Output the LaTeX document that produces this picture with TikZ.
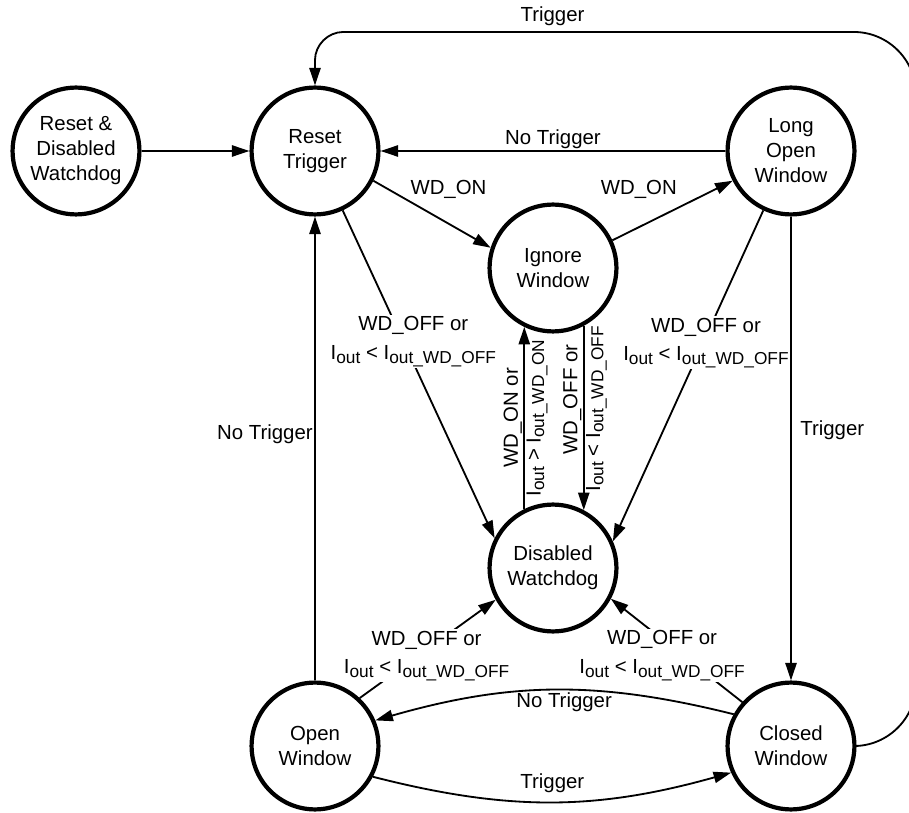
\documentclass[tikz,border=0pt]{standalone}
\usepackage{fontspec}
\setmainfont{Liberation Sans}
\usepackage{tikz}
\usetikzlibrary{arrows.meta,positioning}
\tikzset{every picture/.style={
  >={Triangle[length=12.5pt,width=8pt]}   % Solid triangular arrow heads.
  }
}
\newcommand{\subtxt}[1]{\raisebox{-2.4pt}{\fontsize{12.3}{14}\selectfont #1}}

\begin{document}
\begin{tikzpicture}[
    x=0.025cm, y=-0.025cm,
    state/.style={              % Circles denoting watchdog states.
      circle,
      draw,
      line width=3pt,
      minimum size=3.17cm,
      inner sep=0pt,
      align=center,
      font=\fontsize{14.5}{17.8}\selectfont
    },
    trans/.style={              % Transitions between states.
      ->,
      line width=1.3pt
    },
    lbl/.style={                % Styling of label text.
      inner sep=1pt,
      align=center,
      font=\fontsize{14.5}{20.5}\selectfont
    },
    onwire/.style={             % Labels sitting on a transition.
      lbl,
      fill=white
    }]

    \useasboundingbox (0,0) rectangle (909,813);
    \clip (0,0) rectangle (909,813);

    % The states of the watchdog.
    \node[state] (rdw) at (76,151)  {Reset \&\\Disabled\\Watchdog};
    \node[state] (rt)  at (315,151) {Reset\\Trigger};
    \node[state] (low) at (791,151) {Long\\Open\\Window};
    \node[state] (iw)  at (553,268) {Ignore\\Window};
    \node[state] (dw)  at (553,568) {Disabled\\Watchdog};
    \node[state] (ow)  at (315,746) {Open\\Window};
    \node[state] (cw)  at (791,746) {Closed\\Window};

    % Resetting and triggering.
    \draw[trans] (rdw) -- (rt);
    \draw[trans] (low) -- node[lbl,above] {No Trigger} (rt);
    \draw[trans] (rt.333) -- node[lbl,pos=0.64,above=16pt] {WD\_ON} (iw.162);
    \draw[trans] (iw.25) -- node[lbl,pos=0.22,above=19pt] {WD\_ON} (low.207);
    \draw[trans] (low) -- node[lbl,pos=0.46,right=5pt] {Trigger} (cw);
    \draw[trans] (ow) -- node[lbl,pos=0.53,left] {No Trigger} (rt);
    \draw[trans] (cw.151) to[bend right=15] node[lbl,below,pos=0.47] {No Trigger} (ow.23);
    \draw[trans] (ow.-28) to[bend right=15] node[lbl,above=5pt] {Trigger} (cw.204);

    % Trigger in the closed window goes round the outside.
    \draw[trans] (cw.east) -- (854,746) .. controls (888,746) and (916,718) .. (916,684)
      -- (916,94) .. controls (916,60) and (888,32) .. (854,32)
      -- node[lbl,pos=0.59,above=3pt] {Trigger} (343,32)
      .. controls (328,32) and (315,45) .. (315,60) -- (rt.north);

    % Switching the watchdog off and on.
    \draw[trans] (rt.295) -- node[onwire,pos=0.4,xshift=7pt]
      {WD\_OFF or\\I\subtxt{out} < I\subtxt{out\_WD\_OFF}} (dw.153);
    \draw[trans] (low.245) -- node[onwire,pos=0.4,xshift=2pt]
      {WD\_OFF or\\I\subtxt{out} < I\subtxt{out\_WD\_OFF}} (dw.24);
    \draw[trans] (ow.47) -- node[onwire,pos=0.43,xshift=6pt]
      {WD\_OFF or\\I\subtxt{out} < I\subtxt{out\_WD\_OFF}} (dw.209);
    \draw[trans] (cw.138) -- node[onwire,pos=0.45,xshift=-15pt]
      {WD\_OFF or\\I\subtxt{out} < I\subtxt{out\_WD\_OFF}} (dw.-28);
    \draw[trans] (dw.116) -- node[lbl,rotate=90,above] {WD\_ON or}
      node[lbl,rotate=90,below] {I\subtxt{out} > I\subtxt{out\_WD\_ON}} (iw.244);
    \draw[trans] (iw.298) -- node[lbl,rotate=90,above,pos=0.4] {WD\_OFF or}
      node[lbl,rotate=90,below,pos=0.45] {I\subtxt{out} < I\subtxt{out\_WD\_OFF}} (dw.62);
\end{tikzpicture}
\end{document}
